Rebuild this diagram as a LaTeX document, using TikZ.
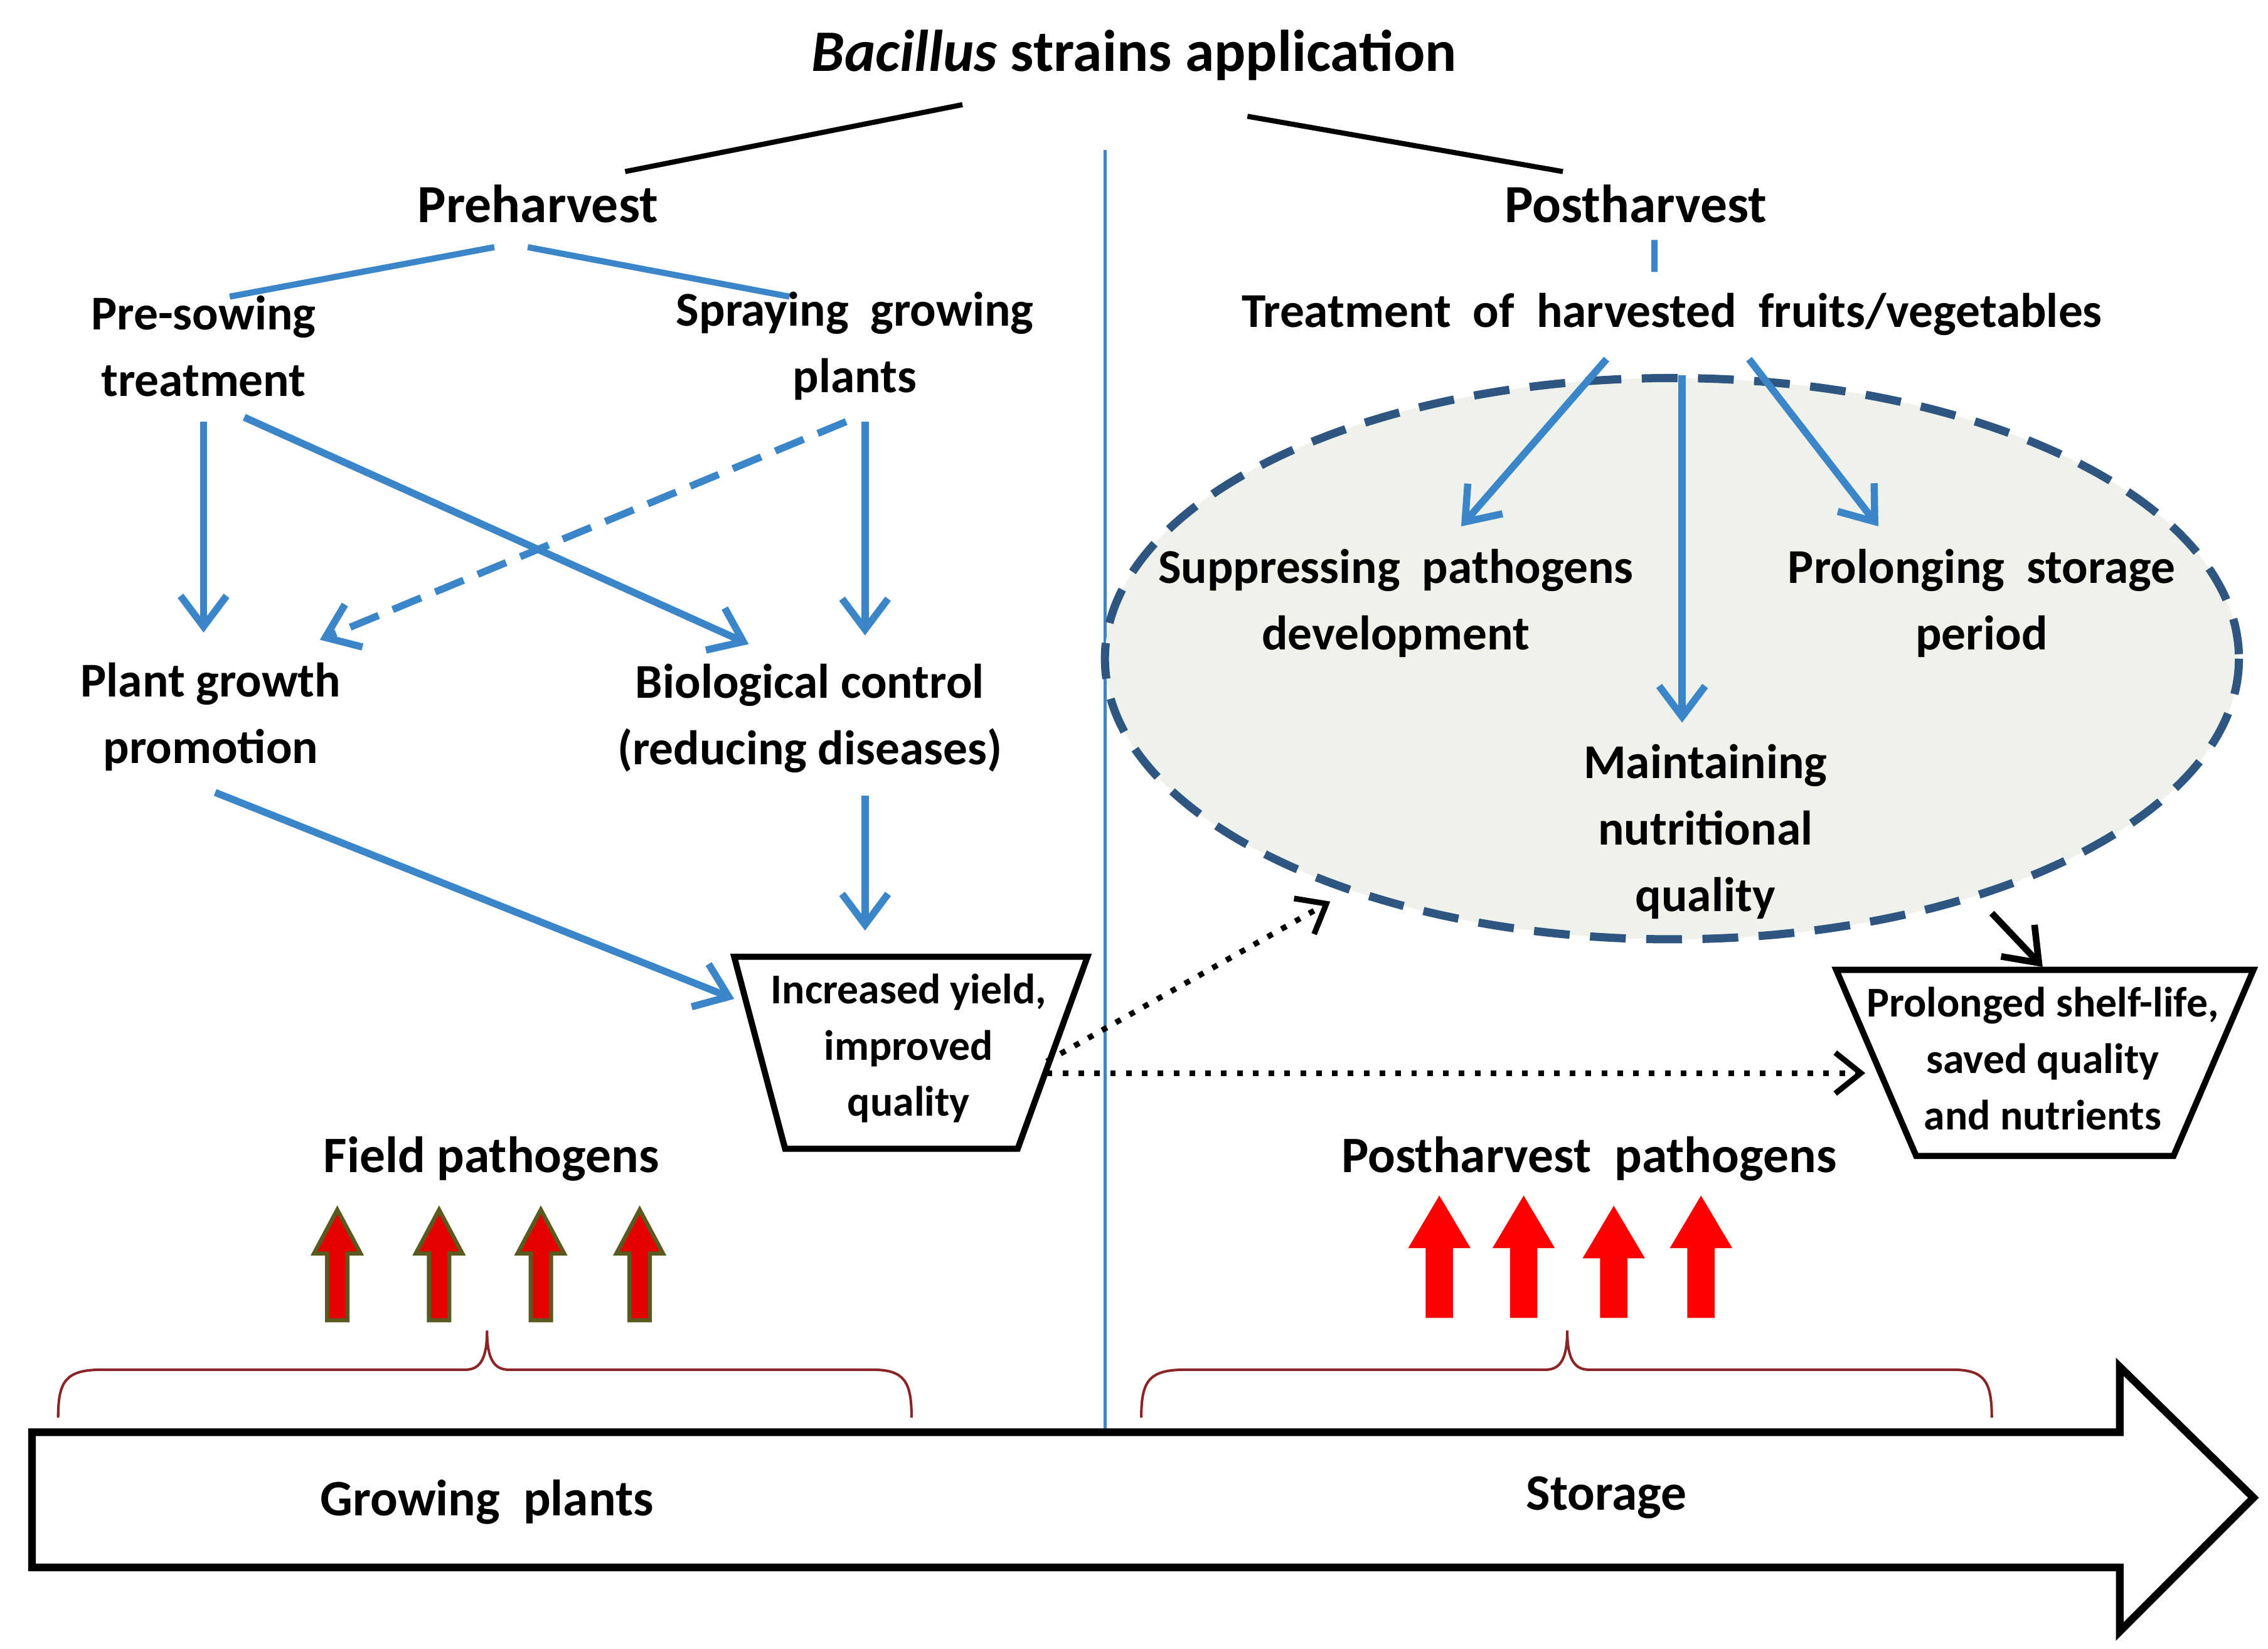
\documentclass[tikz,border=0pt]{standalone}
\usepackage{fontspec}
\setmainfont{Carlito}
\usetikzlibrary{arrows.meta}
\definecolor{bl}{HTML}{3A86C8}
\definecolor{ell}{HTML}{2E5680}
\definecolor{brc}{HTML}{8B2525}
\definecolor{olv}{HTML}{5A5A20}
\begin{document}
\begin{tikzpicture}[x=0.01cm,y=-0.01cm,
  lab/.style={font=\bfseries\fontsize{9.5}{13}\selectfont,align=center,inner sep=1pt},
  hd/.style={font=\bfseries\fontsize{10.5}{13}\selectfont,inner sep=1pt},
  box/.style={font=\bfseries\fontsize{8.3}{11}\selectfont,align=center,inner sep=0pt},
  barr/.style={bl,line width=1.4pt,-{Stealth[length=9pt,width=8pt,open]}},
  barr2/.style={bl,line width=1.4pt,-{Straight Barb[length=6pt,width=9pt]}},
  darr/.style={black,line width=1.1pt,dotted,-{Straight Barb[length=5pt,width=8pt]}},
  pa/.style={line width=0.8pt},
  brace/.style={brc,line width=0.5pt}]
\useasboundingbox (0,0) rectangle (1560,1134);
\fill[white] (0,0) rectangle (1560,1134);
% title
\node[hd,font=\fontsize{11.5}{13}\selectfont\bfseries] (title) at (780,38) {\textit{Bacillus} strains application};
\coordinate (t1) at (662,72); \coordinate (t2) at (430,118);
\coordinate (t3) at (858,80); \coordinate (t4) at (1075,118);
\draw[line width=1pt] (t1) -- (t2); \draw[line width=1pt] (t3) -- (t4);
\coordinate (v1) at (760,103); \coordinate (v2) at (760,983);
\draw[bl,line width=0.6pt] (v1) -- (v2);
\node[hd] (pre) at (370,140) {Preharvest};
\node[hd] (post) at (1125,140) {Postharvest};
\coordinate (p1) at (340,170); \coordinate (p2) at (158,204);
\coordinate (p3) at (363,170); \coordinate (p4) at (543,204);
\coordinate (p5) at (1138,165); \coordinate (p6) at (1138,187);
\draw[bl,line width=1.2pt] (p1)--(p2) (p3)--(p4) (p5)--(p6);
\node[lab] (sow) at (140,238) {Pre-sowing\\treatment};
\node[lab] (spr) at (588,238) {Spraying\ \ growing\\plants};
\node[lab] (treat) at (1150,216) {Treatment\ \ of\ \ harvested\ \ fruits/vegetables};
\node[lab] (pgp) at (145,493) {Plant growth\\promotion};
\node[lab] (bio) at (557,494) {Biological control\\(reducing diseases)};
% ellipse
\fill[fill={rgb,255:red,238;green,242;blue,234}] (1150,453) ellipse [x radius=390,y radius=193];
\draw[ell,line width=1.6pt,dash pattern=on 7pt off 4pt] (1150,453) ellipse [x radius=390,y radius=193];
\node[lab] (sup) at (960,415) {Suppressing\ \ pathogens\\development};
\node[lab] (prol) at (1363,415) {Prolonging\ \ storage\\period};
\node[lab] (main) at (1173,572) {Maintaining\\nutritional\\quality};
% arrows preharvest
\coordinate (a1) at (140,290); \coordinate (a1e) at (140,435);
\coordinate (a2) at (168,287); \coordinate (a2e) at (515,443);
\coordinate (a3) at (582,290); \coordinate (a3e) at (220,440);
\coordinate (a4) at (595,290); \coordinate (a4e) at (595,437);
\coordinate (a5) at (148,545); \coordinate (a5e) at (505,687);
\coordinate (a6) at (595,547); \coordinate (a6e) at (595,640);
\draw[barr2] (a1)--(a1e);
\draw[barr2] (a2)--(a2e);
\draw[barr2,dash pattern=on 6pt off 3pt] (a3)--(a3e);
\draw[barr2] (a4)--(a4e);
\draw[barr2] (a5)--(a5e);
\draw[barr2] (a6)--(a6e);
\coordinate (b1) at (1105,247); \coordinate (b1e) at (1005,362);
\coordinate (b2) at (1157,258); \coordinate (b2e) at (1157,497);
\coordinate (b3) at (1203,247); \coordinate (b3e) at (1292,362);
\draw[barr2] (b1)--(b1e); \draw[barr2] (b2)--(b2e); \draw[barr2] (b3)--(b3e);
% trapezoids
\draw[line width=1.2pt,fill=white] (505,658)--(748,658)--(700,790)--(540,790)--cycle;
\node[box] (yield) at (625,721) {Increased yield,\\improved\\quality};
\draw[line width=1.2pt,fill=white] (1263,667)--(1550,667)--(1495,795)--(1318,795)--cycle;
\node[box] (shelf) at (1405,728) {Prolonged shelf-life,\\saved quality\\and nutrients};
\coordinate (d1) at (720,730); \coordinate (d1e) at (915,620);
\coordinate (d2) at (720,738); \coordinate (d2e) at (1283,738);
\draw[darr] (d1)--(d1e); \draw[darr] (d2)--(d2e);
\coordinate (k1) at (1370,628); \coordinate (k1e) at (1405,665);
\draw[line width=1.3pt,-{Straight Barb[length=6pt,width=9pt]}] (k1)--(k1e);
% pathogens
\node[lab,font=\bfseries\fontsize{10}{12}\selectfont] (fp) at (338,797) {Field pathogens};
\node[lab,font=\bfseries\fontsize{10}{12}\selectfont] (pp) at (1093,797) {Postharvest\ \ pathogens};
\foreach \x in {232,302,372,440}{
  \draw[pa,draw=olv,fill=red!90!black] (\x-7,908)--(\x+7,908)--(\x+7,862)--(\x+16,862)--(\x,832)--(\x-16,862)--(\x-7,862)--cycle;}
\foreach \x/\t in {990/825,1048/825,1110/832,1170/825}{
  \draw[pa,draw=red,fill=red] (\x-8,905)--(\x+8,905)--(\x+8,\t+32)--(\x+19,\t+32)--(\x,\t)--(\x-19,\t+32)--(\x-8,\t+32)--cycle;}
% braces
\draw[brace] (40,975) .. controls (40,950) and (45,942) .. (70,942) -- (320,942) .. controls (330,942) and (335,935) .. (335,915) .. controls (335,935) and (340,942) .. (350,942) -- (600,942) .. controls (622,942) and (627,950) .. (627,975);
\draw[brace] (785,975) .. controls (785,950) and (790,942) .. (815,942) -- (1063,942) .. controls (1073,942) and (1078,935) .. (1078,915) .. controls (1078,935) and (1083,942) .. (1093,942) -- (1343,942) .. controls (1365,942) and (1370,950) .. (1370,975);
% big arrow
\draw[line width=1.5pt,fill=white] (22,985)--(1458,985)--(1458,940)--(1550,1030)--(1458,1122)--(1458,1078)--(22,1078)--cycle;
\node[lab,font=\bfseries\fontsize{10}{12}\selectfont] (gp) at (335,1033) {Growing\ \ plants};
\node[lab,font=\bfseries\fontsize{10}{12}\selectfont] (st) at (1105,1030) {Storage};
\end{tikzpicture}
\end{document}
